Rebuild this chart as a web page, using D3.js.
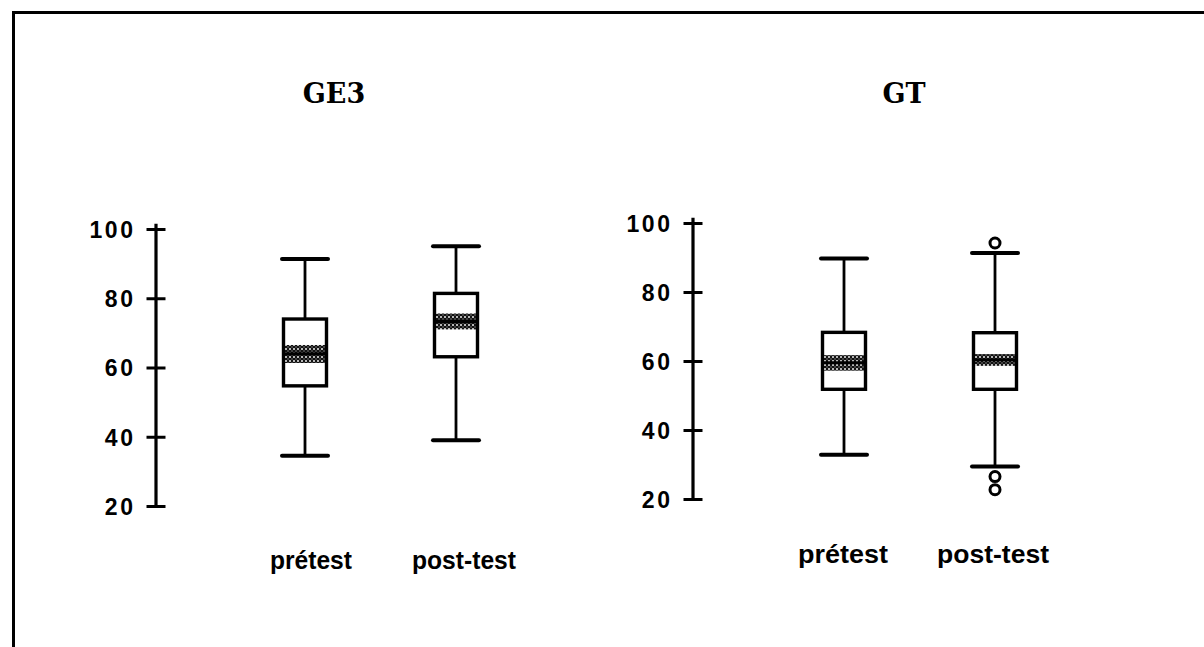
<!DOCTYPE html>
<html>
<head>
<meta charset="utf-8">
<script src="https://cdn.jsdelivr.net/npm/d3@7"></script>
<style>
  html, body { margin: 0; padding: 0; background: #fff; }
  svg { display: block; }
  .tick-label { font-family: "Liberation Sans", Arial, sans-serif; font-weight: bold; font-size: 23px; letter-spacing: 2.6px; fill: #000; }
  .cat-label { font-family: "Liberation Sans", Arial, sans-serif; font-weight: bold; font-size: 25px; fill: #000; }
  .panel-title { font-family: "DejaVu Serif", "Liberation Serif", serif; font-weight: bold; font-size: 27px; fill: #000; }
</style>
</head>
<body>
<svg id="chart" width="1204" height="647"></svg>
<script>
// Groups and measurement occasions
const panels = ["GE3", "GT"];
const categories = ["prétest", "post-test"];
const yTicks = [20, 40, 60, 80, 100];

// GE3: five-number summaries, with the shaded median band
const ge3Min    = [34.5, 39.0];
const ge3Q1     = [54.7, 63.1];
const ge3Median = [64.0, 73.3];
const ge3Q3     = [74.0, 81.4];
const ge3Max    = [91.3, 95.0];
const ge3BandLo = [61.3, 71.0];
const ge3BandHi = [66.5, 75.6];
const ge3Outliers = [[], []];

// GT: five-number summaries, with the shaded median band
const gtMin    = [32.8, 29.4];
const gtQ1     = [51.8, 51.8];
const gtMedian = [59.5, 60.3];
const gtQ3     = [68.3, 68.2];
const gtMax    = [89.7, 91.3];
const gtBandLo = [57.2, 58.6];
const gtBandHi = [61.7, 62.0];
const gtOutliers = [[], [94.2, 26.5, 22.7]];

function buildRows(mins, q1s, meds, q3s, maxs, los, his, outs) {
  return categories.map((c, i) => ({
    cat: c, min: mins[i], q1: q1s[i], med: meds[i], q3: q3s[i], max: maxs[i],
    lo: los[i], hi: his[i], outliers: outs[i]
  }));
}

const panelData = {
  GE3: buildRows(ge3Min, ge3Q1, ge3Median, ge3Q3, ge3Max, ge3BandLo, ge3BandHi, ge3Outliers),
  GT:  buildRows(gtMin, gtQ1, gtMedian, gtQ3, gtMax, gtBandLo, gtBandHi, gtOutliers)
};

// Panel geometry
const layout = {
  GE3: { axisX: 156, yTop: 229, yBottom: 506, xFirst: 305, xLast: 456, titleX: 334,
         labelY: 569, labelDx: [6, 8], labelW: [82, 104] },
  GT:  { axisX: 693, yTop: 223, yBottom: 499, xFirst: 844, xLast: 995, titleX: 904,
         labelY: 563, labelDx: [-1, -2], labelW: [90, 112] }
};
const titleY = 103;
const boxW = 46;

const svg = d3.select("#chart");

// Dotted texture for the median band
const defs = svg.append("defs");
const pat = defs.append("pattern")
  .attr("id", "dots").attr("patternUnits", "userSpaceOnUse")
  .attr("width", 4).attr("height", 4);
pat.append("rect").attr("width", 4).attr("height", 4).attr("fill", "#111");
pat.append("circle").attr("cx", 1).attr("cy", 1).attr("r", 1).attr("fill", "#eee");
pat.append("circle").attr("cx", 3).attr("cy", 3).attr("r", 0.7).attr("fill", "#999");

// Frame
svg.append("path")
  .attr("d", "M13.5,647 L13.5,12.5 L1204,12.5")
  .attr("fill", "none").attr("stroke", "#000").attr("stroke-width", 3);

panels.forEach(name => {
  const L = layout[name];
  const rows = panelData[name];

  const y = d3.scaleLinear().domain([20, 100]).range([L.yBottom, L.yTop]);
  const x = d3.scalePoint().domain(categories).range([L.xFirst, L.xLast]);

  const g = svg.append("g");

  // Title
  g.append("text").attr("class", "panel-title")
    .attr("x", L.titleX).attr("y", titleY).attr("text-anchor", "middle")
    .text(name);

  // Axis with ticks crossing the line
  const axis = g.append("g")
    .attr("transform", `translate(${L.axisX},0)`)
    .call(d3.axisLeft(y).tickValues(yTicks).tickSizeOuter(0).tickSizeInner(9).tickPadding(14));
  axis.attr("font-family", null).attr("font-size", null);
  axis.select(".domain").attr("stroke", "#000").attr("stroke-width", 3.2)
    .attr("d", `M0,${y(101.5)}V${y(19.5)}`);
  axis.selectAll(".tick line")
    .attr("x1", -9.5).attr("x2", 9.5)
    .attr("stroke", "#000").attr("stroke-width", 3);
  axis.selectAll(".tick text").attr("class", "tick-label").attr("fill", null)
    .attr("dx", 2.6).attr("dy", "0.36em");

  // Category labels
  g.selectAll("text.cat-label").data(categories).join("text")
    .attr("class", "cat-label")
    .attr("x", (d, i) => x(d) + L.labelDx[i])
    .attr("y", L.labelY)
    .attr("text-anchor", "middle")
    .attr("textLength", (d, i) => L.labelW[i])
    .attr("lengthAdjust", "spacingAndGlyphs")
    .text(d => d);

  // Boxes
  const b = g.selectAll("g.box").data(rows).join("g").attr("class", "box")
    .attr("transform", d => `translate(${x(d.cat)},0)`);

  // whiskers
  b.append("line").attr("x1", 0).attr("x2", 0)
    .attr("y1", d => y(d.max)).attr("y2", d => y(d.q3))
    .attr("stroke", "#000").attr("stroke-width", 2.8);
  b.append("line").attr("x1", 0).attr("x2", 0)
    .attr("y1", d => y(d.q1)).attr("y2", d => y(d.min))
    .attr("stroke", "#000").attr("stroke-width", 2.8);
  // caps
  b.append("line").attr("x1", -boxW / 2).attr("x2", boxW / 2)
    .attr("y1", d => y(d.max)).attr("y2", d => y(d.max))
    .attr("stroke", "#000").attr("stroke-width", 4).attr("stroke-linecap", "round");
  b.append("line").attr("x1", -boxW / 2).attr("x2", boxW / 2)
    .attr("y1", d => y(d.min)).attr("y2", d => y(d.min))
    .attr("stroke", "#000").attr("stroke-width", 4).attr("stroke-linecap", "round");
  // box
  b.append("rect")
    .attr("x", -boxW / 2 + 1.5).attr("width", boxW - 3)
    .attr("y", d => y(d.q3)).attr("height", d => y(d.q1) - y(d.q3))
    .attr("fill", "#fff").attr("stroke", "#000").attr("stroke-width", 3.4);
  // median band
  b.append("rect")
    .attr("x", -boxW / 2 + 3).attr("width", boxW - 6)
    .attr("y", d => y(d.hi)).attr("height", d => y(d.lo) - y(d.hi))
    .attr("fill", "url(#dots)");
  b.append("line")
    .attr("x1", -boxW / 2 + 3).attr("x2", boxW / 2 - 3)
    .attr("y1", d => y(d.med)).attr("y2", d => y(d.med))
    .attr("stroke", "#000").attr("stroke-width", 3);
  // outliers
  b.selectAll("circle.out").data(d => d.outliers).join("circle")
    .attr("class", "out")
    .attr("cx", 0).attr("cy", v => y(v)).attr("r", 5)
    .attr("fill", "#fff").attr("stroke", "#000").attr("stroke-width", 3);
});
</script>
</body>
</html>
